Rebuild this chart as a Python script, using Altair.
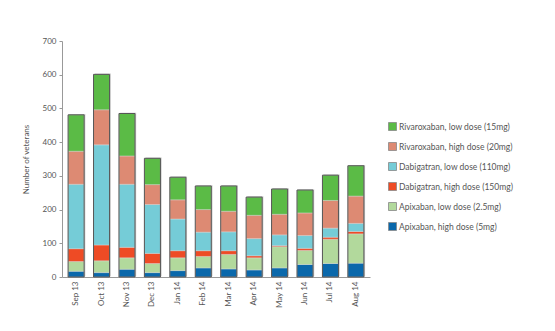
import altair as alt
import pandas as pd

months = ["Sep 13", "Oct 13", "Nov 13", "Dec 13", "Jan 14", "Feb 14",
          "Mar 14", "Apr 14", "May 14", "Jun 14", "Jul 14", "Aug 14"]

# bottom to top in the stack
series = [
    "Apixaban, high dose (5mg)",
    "Apixaban, low dose (2.5mg)",
    "Dabigatran, high dose (150mg)",
    "Dabigatran, low dose (110mg)",
    "Rivaroxaban, high dose (20mg)",
    "Rivaroxaban, low dose (15mg)",
]
apix_high = [17, 13, 23, 13, 19, 27, 24, 21, 27, 37, 40, 41]
apix_low = [29, 35, 34, 27, 38, 34, 43, 36, 63, 42, 72, 87]
dabi_high = [38, 47, 31, 30, 21, 17, 11, 6, 3, 6, 6, 7]
dabi_low = [191, 297, 187, 145, 94, 55, 56, 51, 32, 38, 27, 24]
riva_high = [98, 104, 84, 59, 57, 67, 61, 69, 61, 67, 82, 81]
riva_low = [108, 105, 126, 78, 67, 70, 75, 54, 75, 68, 75, 90]
colors = ["#0a68ab", "#b2d99c", "#ee4b25", "#75ccd7", "#dd8a73", "#5bbb46"]
y_ticks = [0, 100, 200, 300, 400, 500, 600, 700]

values = [apix_high, apix_low, dabi_high, dabi_low, riva_high, riva_low]
rows = []
for i, (s, vals) in enumerate(zip(series, values)):
    for m, v in zip(months, vals):
        rows.append({"month": m, "series": s, "value": v, "idx": i})
df = pd.DataFrame(rows)
totals = pd.DataFrame({"month": months,
                       "total": [sum(v[j] for v in values) for j in range(len(months))]})

legend_order = series[::-1]
legend_colors = colors[::-1]

yscale = alt.Scale(domain=[0, 700], nice=False)
xscale = alt.Scale(paddingInner=0.37, paddingOuter=0.24)
xaxis = alt.Axis(labelAngle=270, labelAlign="right", labelBaseline="middle",
                 ticks=False, labelFontSize=8, labelColor="#555",
                 domainColor="#999", labelPadding=4, labelFont="Lato")
yaxis = alt.Axis(values=y_ticks, grid=False, labelOverlap=False,
                 tickSize=3, tickColor="#999", domainColor="#999",
                 labelFontSize=8, labelColor="#555", labelFont="Lato",
                 titleFontSize=8, titleFontWeight="normal", titleColor="#555",
                 titleFont="Lato", titlePadding=12, labelPadding=3)


def xenc():
    return alt.X("month:N", sort=months, title=None, scale=xscale, axis=xaxis)


def yenc(field, **kw):
    return alt.Y(field, title="Number of veterans", scale=yscale, axis=yaxis, **kw)


bars = alt.Chart(df).mark_bar(stroke="#dddddd", strokeWidth=0.4).encode(
    x=xenc(),
    y=yenc("value:Q", stack="zero"),
    color=alt.Color("series:N", scale=alt.Scale(domain=legend_order, range=legend_colors),
                    legend=alt.Legend(title=None, orient="none", legendX=326, legendY=81,
                                      symbolType="square", symbolSize=64,
                                      symbolStrokeColor="#888", symbolStrokeWidth=0.8,
                                      labelFontSize=8.5, labelColor="#555", labelFont="Lato",
                                      rowPadding=7, labelOffset=2)),
    order=alt.Order("idx:Q", sort="ascending"),
)

shadow = alt.Chart(totals).mark_bar(color="#c8c8c8", xOffset=1.2, yOffset=-0.8).encode(
    x=xenc(), y=yenc("total:Q"))

outline = alt.Chart(totals).mark_bar(fillOpacity=0, stroke="#555", strokeWidth=1).encode(
    x=xenc(), y=yenc("total:Q"))

chart = alt.layer(shadow, bars, outline).properties(
    width=308, height=236,
    autosize=alt.AutoSizeParams(type="none"),
    padding={"left": 62, "top": 41, "right": 185, "bottom": 54},
).configure_view(stroke=None).configure_axis(labelOverlap=False)

chart.save("out.html", embed_options={"renderer": "svg", "actions": False})
